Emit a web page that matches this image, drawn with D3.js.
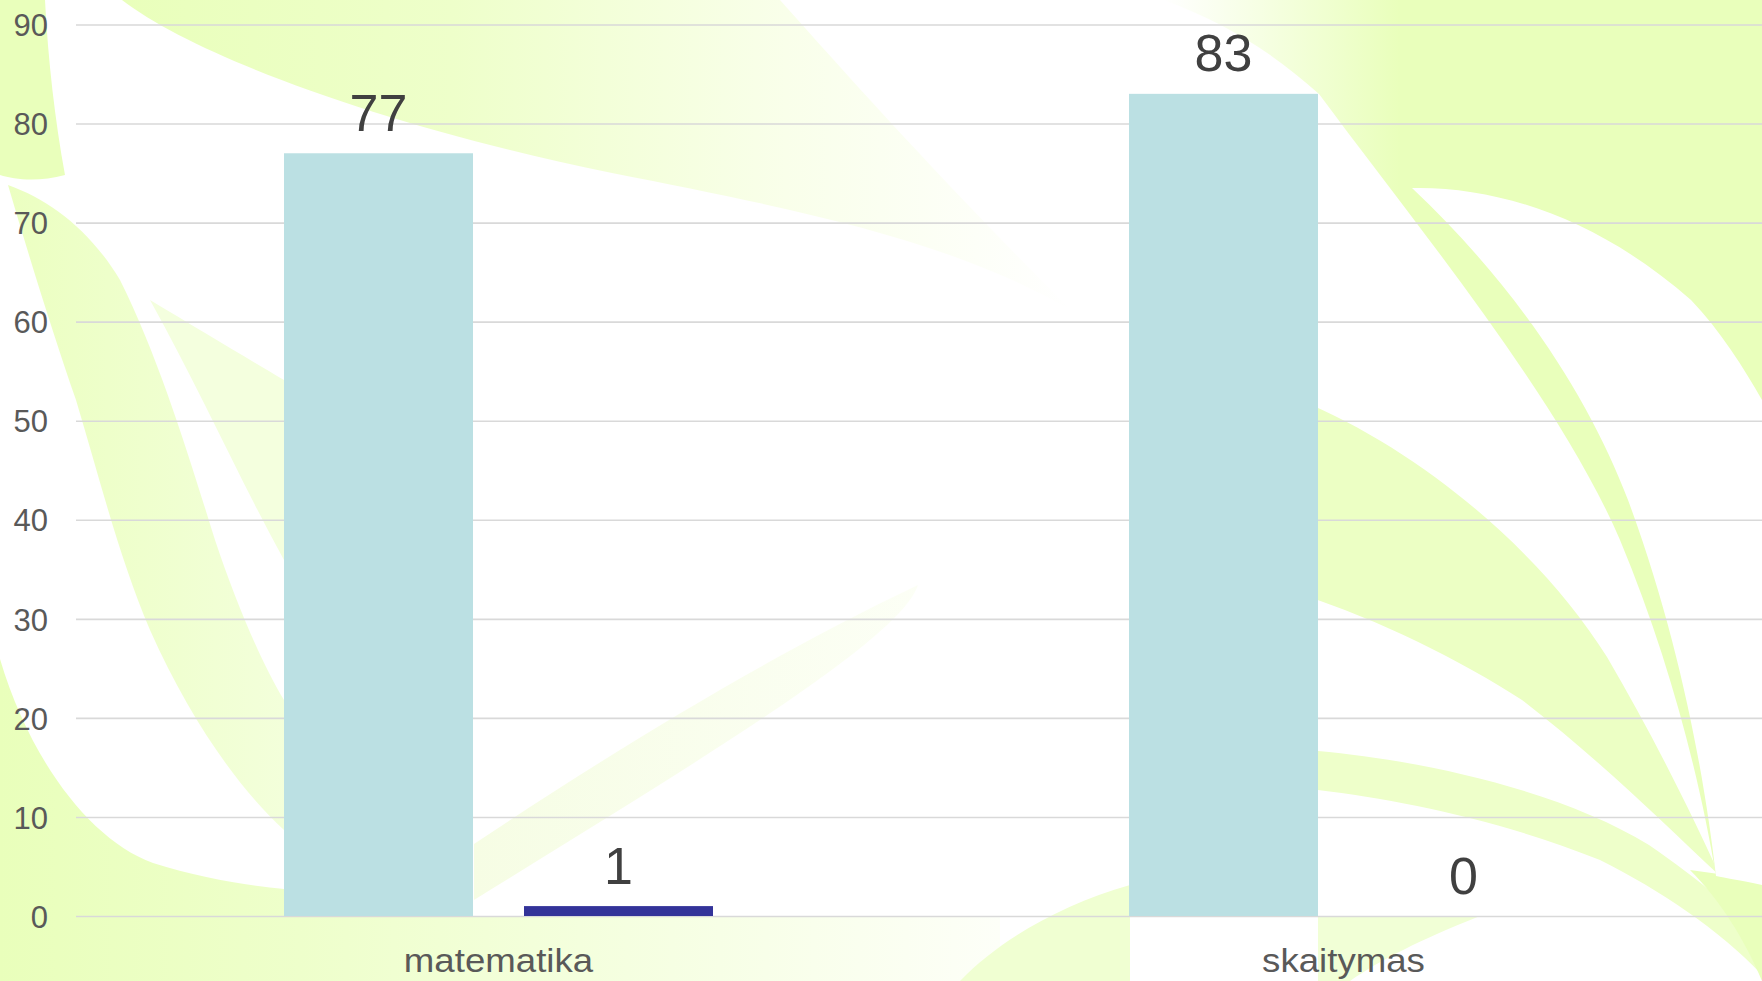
<!DOCTYPE html>
<html>
<head>
<meta charset="utf-8">
<script src="https://cdn.jsdelivr.net/npm/d3@7"></script>
<style>
  html, body { margin: 0; padding: 0; background: #fff; }
  svg { display: block; font-family: "Liberation Sans", Arial, sans-serif; }
</style>
</head>
<body>
<div id="chart"></div>
<script>
// data
var categories = ["matematika", "skaitymas"];
var series_names = ["s1", "s2"];
var series_values = [[77, 83], [1, 0]];
var series_colors = ["#bbe0e3", "#333399"];
var y_ticks = [0, 10, 20, 30, 40, 50, 60, 70, 80, 90];

const W = 1762, H = 981;
const margin = { top: 24.5, left: 76, right: -4, bottom: 65 };

const svg = d3.select("#chart").append("svg")
    .attr("width", W)
    .attr("height", H);

draw_background(svg);

var x0 = d3.scaleBand()
    .domain(categories)
    .range([margin.left, W - margin.right])
    .paddingInner(0)
    .paddingOuter(0);

var x1 = d3.scaleBand()
    .domain(series_names)
    .range([0, x0.bandwidth()])
    .paddingInner(0.2125)
    .paddingOuter(0.8667);

var yScale = d3.scaleLinear()
    .domain([0, 90])
    .range([H - margin.bottom, margin.top]);

// gridlines + tick labels
var yAxis = svg.append("g")
    .attr("class", "y-axis")
    .attr("transform", "translate(" + margin.left + ",0)")
    .call(d3.axisLeft(yScale)
        .tickValues(y_ticks)
        .tickSize(-(W - margin.left))
        .tickPadding(28)
        .tickFormat(d3.format("d")));

yAxis.select(".domain").remove();
yAxis.selectAll(".tick line")
    .attr("stroke", "#d9d9d9")
    .attr("stroke-width", 1.6);
yAxis.selectAll(".tick text")
    .attr("fill", "#595959")
    .attr("font-size", 31)
    .attr("dy", "0.36em")
    .style("font-family", "'Liberation Sans', Arial, sans-serif");

// bars
var rows = [];
categories.forEach(function (c, i) {
    series_names.forEach(function (s, j) {
        rows.push({ cat: c, series: s, value: series_values[j][i], color: series_colors[j] });
    });
});

var bars = svg.append("g").attr("class", "bars");

bars.selectAll("rect")
    .data(rows)
    .join("rect")
    .attr("x", function (d) { return x0(d.cat) + x1(d.series); })
    .attr("y", function (d) { return yScale(d.value); })
    .attr("width", x1.bandwidth())
    .attr("height", function (d) { return yScale(0) - yScale(d.value); })
    .attr("fill", function (d) { return d.color; });

bars.selectAll("text")
    .data(rows)
    .join("text")
    .attr("x", function (d) { return x0(d.cat) + x1(d.series) + x1.bandwidth() / 2; })
    .attr("y", function (d) { return yScale(d.value) - 22.5; })
    .attr("text-anchor", "middle")
    .attr("font-size", 52)
    .attr("fill", "#404040")
    .text(function (d) { return d.value; });

// category labels
svg.append("g")
    .selectAll("text")
    .data(categories)
    .join("text")
    .attr("transform", function (d) {
        return "translate(" + (x0(d) + x0.bandwidth() / 2) + "," + 972 + ") scale(1.11,1)";
    })
    .attr("text-anchor", "middle")
    .attr("font-size", 33)
    .attr("fill", "#595959")
    .text(function (d) { return d; });


function add_gradient(defs, id, x1, x2, stops)
{
    var g = defs.append("linearGradient").attr("id", id)
        .attr("gradientUnits", "userSpaceOnUse")
        .attr("x1", x1).attr("x2", x2).attr("y1", 0).attr("y2", 0);
    stops.forEach(function (s) {
        g.append("stop").attr("offset", s[0]).attr("stop-color", s[1]);
    });
}

function draw_background(svg)
{
    var green = "#e9ffbb";
    var defs = svg.append("defs");
    add_gradient(defs, "topleaf", 120, 1071, [[0, green], [0.35, "#eeffca"], [0.7, "#f9ffea"], [1, "#ffffff"]]);
    add_gradient(defs, "tr", 1163, 1400, [[0, "#ffffff"], [1, green]]);
    add_gradient(defs, "bottom", 0, 1000, [[0, green], [0.3, "#eeffcb"], [1, "#fdfff8"]]);
    add_gradient(defs, "bandB", 0, 290, [[0, "#ebffc0"], [1, "#f3ffdb"]]);
    add_gradient(defs, "mid", 474, 980, [[0, "#f6fde4"], [1, "#fdfff8"]]);

    svg.append("rect").attr("width", W).attr("height", H).attr("fill", "#ffffff");

    var shapes = [
        // left edge strip
        { d: "M0,0 L45,0 C 48,60 55,120 65,175 C 40,182 15,180 0,175 Z", fill: green },
        // big leaf across the top
        { d: "M122,0 C 200,60 400,130 612,173 C 800,210 950,240 1071,310 C 960,200 860,90 780,0 Z", fill: "url(#topleaf)" },
        // left band going down to the first bar
        { d: "M8,185 C 30,260 55,340 76,400 C 100,480 120,560 150,630 C 190,720 240,790 284,830 L284,700 C 260,660 235,600 215,540 C 190,460 160,360 120,280 C 90,230 50,200 8,185 Z", fill: "url(#bandB)" },
        // pale area beside the bar
        { d: "M150,300 C 200,330 250,360 284,380 L284,560 C 240,480 200,390 150,300 Z", fill: "#f4ffde" },
        // bottom-left corner
        { d: "M0,659 C 30,760 90,840 153,863 C 200,878 250,886 284,889 L284,916 L1000,916 L1000,981 L0,981 Z", fill: "url(#bottom)" },
        // faint diagonal band in the middle
        { d: "M474,844 C 600,760 760,660 918,585 C 900,640 700,760 474,900 Z", fill: "url(#mid)" },
        // bottom centre leaf tip
        { d: "M960,981 C 1000,940 1060,905 1130,885 L1130,981 Z", fill: "#f0ffd2" },
        // top-right block plus first right band
        { d: "M1163,0 L1762,0 L1762,400 L1700,520 L1716,876 C 1700,780 1670,660 1620,540 C 1560,400 1420,230 1319,94 C 1270,50 1220,20 1163,0 Z", fill: "url(#tr)" },
        // second right band
        { d: "M1300,400 C 1420,450 1540,550 1607,657 C 1650,730 1690,810 1720,876 C 1660,820 1600,760 1522,700 C 1460,660 1380,620 1300,594 Z", fill: "#ecffc4" },
        // third right band
        { d: "M1318,751 C 1420,760 1560,790 1649,845 C 1700,880 1735,910 1762,939 L1762,975 C 1720,930 1660,890 1600,860 C 1500,820 1400,800 1318,790 Z", fill: "#eeffca" },
        // bottom right corner
        { d: "M1690,870 C 1720,900 1745,940 1762,981 L1762,880 Z", fill: green },
        { d: "M1318,916 L1480,916 C 1420,940 1380,960 1350,981 L1318,981 Z", fill: "#f1ffd6" }
    ];

    svg.selectAll("path.bg")
        .data(shapes)
        .join("path")
        .attr("class", "bg")
        .attr("d", function (d) { return d.d; })
        .attr("fill", function (d) { return d.fill; });

    // white swoosh in the top-right
    svg.append("path")
        .attr("class", "bg")
        .attr("d", "M1412,188 C 1500,186 1600,220 1691,300 C 1720,330 1745,370 1762,400 L1762,885 C 1740,880 1725,878 1716,876 C 1705,780 1680,640 1628,500 C 1590,400 1520,290 1412,188 Z")
        .attr("fill", "#ffffff");
}
</script>
</body>
</html>
